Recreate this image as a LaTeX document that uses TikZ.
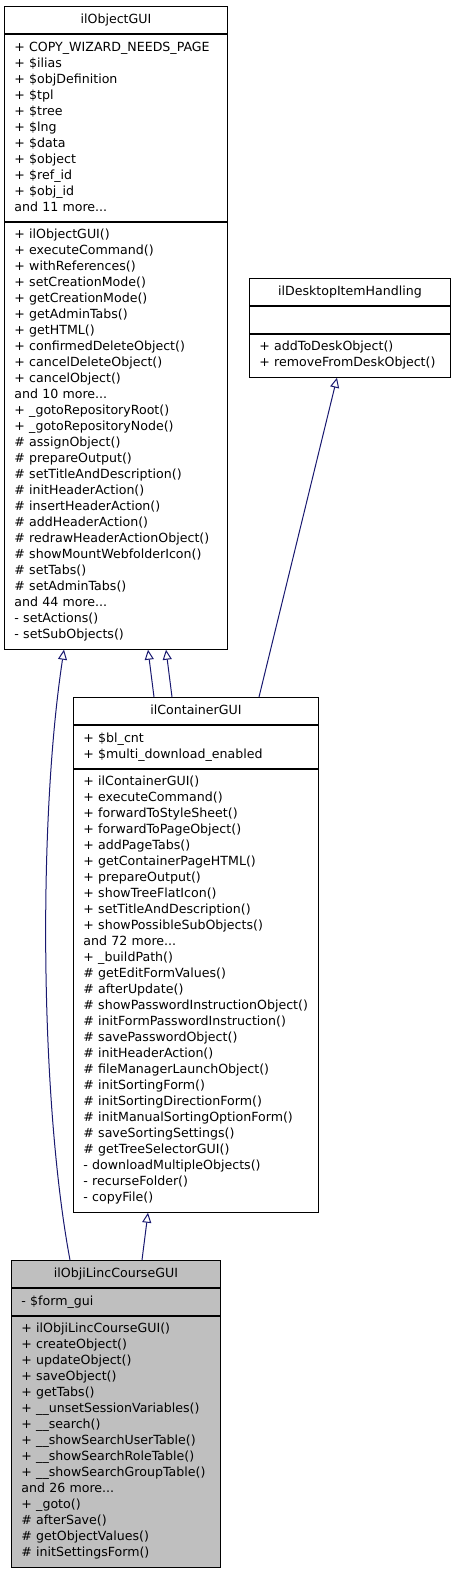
\documentclass[tikz,border=0pt]{standalone}
\usepackage{fontspec}
\setmainfont{DejaVu Sans}
\usepackage{xcolor}
\usetikzlibrary{positioning}
\usetikzlibrary{arrows.meta}
\usetikzlibrary{calc}
\definecolor{edgeblue}{RGB}{25,25,112}
\definecolor{classgray}{RGB}{191,191,191}
\newcommand{\umlfont}{\fontsize{12.6}{16}\selectfont\hyphenpenalty=10000\exhyphenpenalty=10000}
\tikzset{umlpart/.style={draw=black, line width=0.9pt, fill=white, font=\umlfont,
inner xsep=10pt, inner ysep=5.5pt, align=left},
umltitle/.style={umlpart, align=center},
inherit/.style={draw=edgeblue, line width=1pt, -{Triangle[open, length=10pt, width=9pt]}}}

\begin{document}
\begin{tikzpicture}[x=1pt, y=-1pt]
\useasboundingbox (0,0) rectangle (456,1571);

				% ilObjectGUI
				\node[umltitle, text width=203pt, anchor=north west] (objT) at (4,6) {\strut ilObjectGUI};
				\node[umlpart, text width=203pt, below=0pt of objT] (objA) {\strut + COPY\_WIZARD\_NEEDS\_PAGE\\
					+ \$ilias\\ + \$objDefinition\\ + \$tpl\\ + \$tree\\ + \$lng\\ + \$data\\ + \$object\\
					+ \$ref\_id\\ + \$obj\_id\\ and 11 more...\strut};
				\node[umlpart, text width=203pt, below=0pt of objA] (objM) {\strut + ilObjectGUI()\\
					+ executeCommand()\\ + withReferences()\\ + setCreationMode()\\ + getCreationMode()\\
					+ getAdminTabs()\\ + getHTML()\\ + confirmedDeleteObject()\\ + cancelDeleteObject()\\
					+ cancelObject()\\ and 10 more...\\ + \_gotoRepositoryRoot()\\ + \_gotoRepositoryNode()\\
					\# assignObject()\\ \# prepareOutput()\\ \# setTitleAndDescription()\\ \# initHeaderAction()\\
					\# insertHeaderAction()\\ \# addHeaderAction()\\ \# redrawHeaderActionObject()\\
					\# showMountWebfolderIcon()\\ \# setTabs()\\ \# setAdminTabs()\\ and 44 more...\\
					- setActions()\\ - setSubObjects()\strut};

				% ilDesktopItemHandling
				\node[umltitle, text width=181pt, anchor=north west] (deskT) at (249,278) {\strut ilDesktopItemHandling};
				\node[umlpart, text width=181pt, below=0pt of deskT] (deskA) {\strut};
				\node[umlpart, text width=181pt, below=0pt of deskA] (deskM) {\strut + addToDeskObject()\\
					+ removeFromDeskObject()\strut};

				% ilContainerGUI
				\node[umltitle, text width=225pt, anchor=north west] (contT) at (73,697) {\strut ilContainerGUI};
				\node[umlpart, text width=225pt, below=0pt of contT] (contA) {\strut + \$bl\_cnt\\
					+ \$multi\_download\_enabled\strut};
				\node[umlpart, text width=225pt, below=0pt of contA] (contM) {\strut + ilContainerGUI()\\
					+ executeCommand()\\ + forwardToStyleSheet()\\ + forwardToPageObject()\\ + addPageTabs()\\
					+ getContainerPageHTML()\\ + prepareOutput()\\ + showTreeFlatIcon()\\
					+ setTitleAndDescription()\\ + showPossibleSubObjects()\\ and 72 more...\\ + \_buildPath()\\
					\# getEditFormValues()\\ \# afterUpdate()\\ \# showPasswordInstructionObject()\\
					\# initFormPasswordInstruction()\\ \# savePasswordObject()\\ \# initHeaderAction()\\
					\# fileManagerLaunchObject()\\ \# initSortingForm()\\ \# initSortingDirectionForm()\\
					\# initManualSortingOptionForm()\\ \# saveSortingSettings()\\ \# getTreeSelectorGUI()\\
					- downloadMultipleObjects()\\ - recurseFolder()\\ - copyFile()\strut};

				% ilObjiLincCourseGUI
				\node[umltitle, fill=classgray, text width=189pt, anchor=north west] (lincT) at (11,1260) {\strut ilObjiLincCourseGUI};
				\node[umlpart, fill=classgray, text width=189pt, below=0pt of lincT] (lincA) {\strut - \$form\_gui\strut};
				\node[umlpart, fill=classgray, text width=189pt, below=0pt of lincA] (lincM) {\strut + ilObjiLincCourseGUI()\\
					+ createObject()\\ + updateObject()\\ + saveObject()\\ + getTabs()\\
					+ \_\_unsetSessionVariables()\\ + \_\_search()\\ + \_\_showSearchUserTable()\\
					+ \_\_showSearchRoleTable()\\ + \_\_showSearchGroupTable()\\ and 26 more...\\ + \_goto()\\
					\# afterSave()\\ \# getObjectValues()\\ \# initSettingsForm()\strut};

				% inheritance
				\draw[inherit] ($(lincT.north west)+(59,0)$) .. controls (40,1100) and (38,820) .. ($(objM.south west)+(60,0)$);
				\draw[inherit] ($(lincT.north west)+(131,0)$) -- ($(contM.south west)+(75,0)$);
				\draw[inherit] ($(contT.north west)+(81,0)$) -- ($(objM.south west)+(144,0)$);
				\draw[inherit] ($(contT.north west)+(99,0)$) -- ($(objM.south west)+(162,0)$);
				\draw[inherit] ($(contT.north west)+(186,0)$) -- ($(deskM.south west)+(88,0)$);
\end{tikzpicture}
\end{document}
